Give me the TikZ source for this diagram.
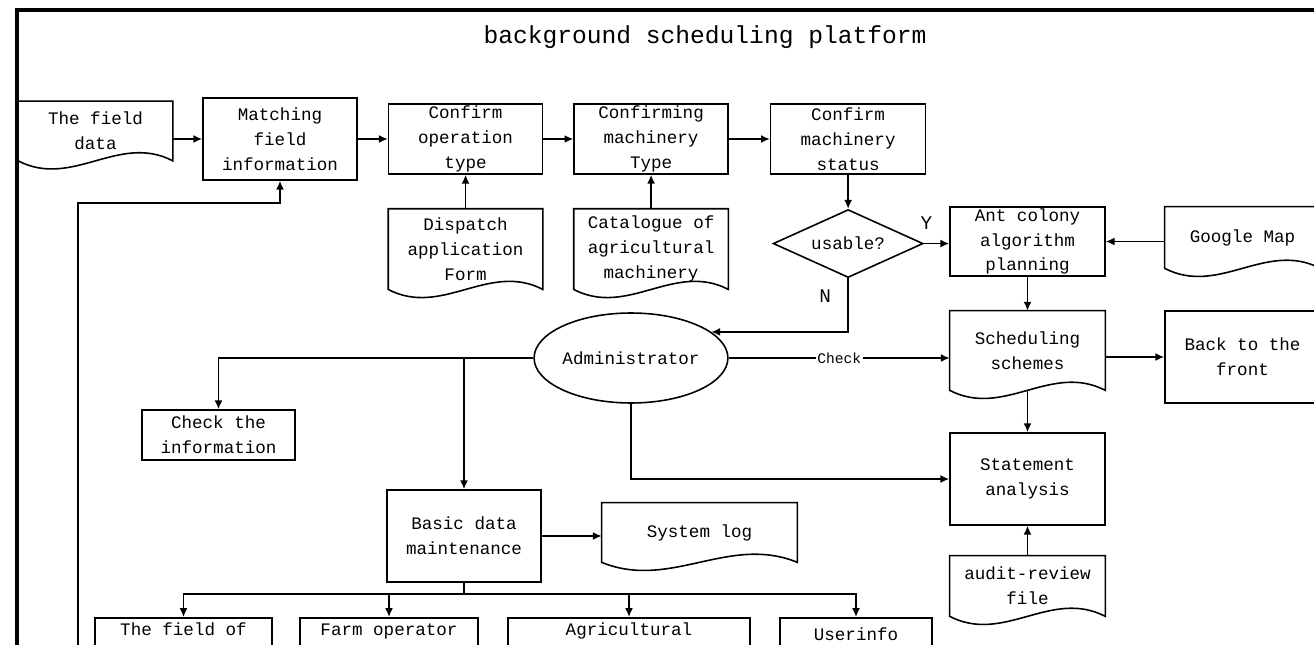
\documentclass[tikz,border=0pt]{standalone}
\usepackage{fontspec}
\setmainfont{Liberation Mono}
\usepackage{tikz}
\usetikzlibrary{arrows.meta}
\usetikzlibrary{shapes,calc,positioning}
\tikzset{box/.style={draw, rectangle, line width=0.9pt, align=center, inner sep=0pt, minimum width=3.08cm, minimum height=1.4cm, font=\fontsize{10}{14.2}\selectfont}}
\tikzset{doc/.style={align=center, inner sep=0pt, minimum width=3.08cm, font=\fontsize{10}{14.2}\selectfont}}
\tikzset{lowbox/.style={box, anchor=north, minimum height=0pt, text height=10pt, text depth=2cm}}
\tikzset{line/.style={draw, line width=0.9pt, -{Latex[length=5pt,width=4.5pt]}}}
\tikzset{tag/.style={font=\fontsize{11}{13}\selectfont}}
% outline of a document symbol with a wavy bottom
\newcommand{\docwave}[1]{%
	\draw [line width=0.9pt] (#1.north west) -- (#1.north east) -- (#1.south east)
		.. controls ($(#1.south east)!0.35!(#1.south west)+(0pt,16pt)$) and ($(#1.south east)!0.65!(#1.south west)+(0pt,-16pt)$) .. (#1.south west) -- cycle;}

\begin{document}
\begin{tikzpicture}[x=0.02cm,y=-0.02cm]
			\useasboundingbox (0,0) rectangle (1314,645);
			\clip (0,0) rectangle (1314,645);
			\draw [line width=2.2pt] (17,700) -- (17,10) -- (1400,10);
			\node [font=\fontsize{14}{16}\selectfont]       (title)     at (705,37)      {background scheduling platform};
			% upper row
			\node [doc, minimum height=1.18cm]              (fielddata) at (95.5,131)    {The field\\data};
			\node [box, minimum height=1.64cm]              (match)     at (280,139)     {Matching\\field\\information};
			\node [box, right=0.6cm of match]               (optype)                     {Confirm\\operation\\type};
			\node [box, right=0.6cm of optype]              (mtype)                      {Confirming\\machinery\\Type};
			\node [box, right=0.82cm of mtype, minimum width=3.1cm] (mstatus)            {Confirm\\machinery\\status};
			\node [doc, below=0.68cm of optype, minimum height=1.6cm] (dispatch)         {Dispatch\\application\\Form};
			\node [doc, below=0.68cm of mtype, minimum height=1.6cm]  (catalog)          {Catalogue of\\agricultural\\machinery};
			\node [draw, diamond, line width=0.9pt, aspect=2.2, inner sep=0pt, minimum width=3cm, minimum height=1.36cm, font=\fontsize{10}{14.2}\selectfont, below=0.68cm of mstatus] (usable) {usable?};
			\node [box, minimum width=3.1cm, minimum height=1.38cm] (antcol)  at (1027.5,241.5) {Ant colony\\algorithm\\planning};
			\node [doc, minimum width=3.1cm, minimum height=1.22cm] (google)  at (1242.5,237.5) {Google Map};
			% middle part
			\node [doc, minimum width=3.1cm, minimum height=1.58cm] (sched)   at (1027.5,350.5) {Scheduling\\schemes};
			\node [box, minimum width=3.1cm, minimum height=1.84cm] (back)    at (1242.5,357)   {Back to the\\front};
			\node [draw, ellipse, line width=0.9pt, inner sep=0pt, minimum width=3.52cm, minimum height=1.8cm, font=\fontsize{10}{14.2}\selectfont] (admin) at (631,358) {Administrator};
			\node [box, minimum width=3.06cm, minimum height=1cm]   (checkinfo) at (218.5,435) {Check the\\information};
			\node [box, minimum height=1.84cm]                      (basic)   at (464,536)      {Basic data\\maintenance};
			\node [doc, minimum width=3.9cm, minimum height=1.18cm] (syslog)  at (699.5,532.5)  {System log};
			\node [box, minimum width=3.1cm, minimum height=1.84cm] (statement) at (1027.5,479) {Statement\\analysis};
			\node [doc, minimum width=3.1cm, minimum height=1.2cm]  (audit)   at (1027.5,586)   {audit-review\\file};
			% lower row
			\node [lowbox, minimum width=3.54cm]                    (fieldof)  at (183.5,617)   {The field of};
			\node [lowbox, minimum width=3.56cm]                    (farmop)   at (389,617)     {Farm operator};
			\node [lowbox, minimum width=4.84cm]                    (agri)     at (629,617)     {Agricultural};
			\node [lowbox, minimum width=3.04cm, text height=13pt]  (userinfo) at (856,617)     {Userinfo};
			\coordinate (loopin)   at (78,700);
			\coordinate (loopturn) at (78,203);
			\coordinate (split)    at (464,594);
			%
			\foreach \d in {fielddata,dispatch,catalog,google,sched,syslog,audit} {\docwave{\d}}
			\path [line] (fielddata.east |- match) -- (match.west);
			\path [line] (match.east) -- (optype.west);
			\path [line] (optype.east) -- (mtype.west);
			\path [line] (mtype.east) -- (mstatus.west);
			\path [line] (dispatch.north) -- (optype.south);
			\path [line] (catalog.north) -- (mtype.south);
			\path [line] (mstatus.south) -- (usable.north);
			\path [line] (usable.east) -- (usable.east -| antcol.west) node [tag, pos=0.1, above=4pt] {Y};
			\path [line] (usable.south) |- (admin.18) node [tag, pos=0.17, left=6pt] {N};
			\path [line] (google.west |- antcol) -- (antcol.east);
			\path [line] (antcol.south) -- (sched.north);
			\path [line] (sched.east |- back) -- (back.west);
			\path [line] (admin.east) -- (admin.east -| sched.west) node [midway, fill=white, inner sep=1pt, font=\fontsize{8.3}{10}\selectfont] {Check};
			\path [line] (admin.west) -| (checkinfo.north);
			\path [line] (admin.west -| basic.north) -- (basic.north);
			\path [line] (admin.south) |- (statement.west);
			\path [line] (sched.south) -- (statement.north);
			\path [line] (audit.north) -- (statement.south);
			\path [line] (basic.east) -- (basic.east -| syslog.west);
			\draw [line width=0.9pt] (basic.south) -- (split);
			\foreach \n in {fieldof,farmop,agri,userinfo} {\path [line] (split) -| (\n.north);}
			\path [line] (loopin) -- (loopturn) -| (match.south);
\end{tikzpicture}
\end{document}
